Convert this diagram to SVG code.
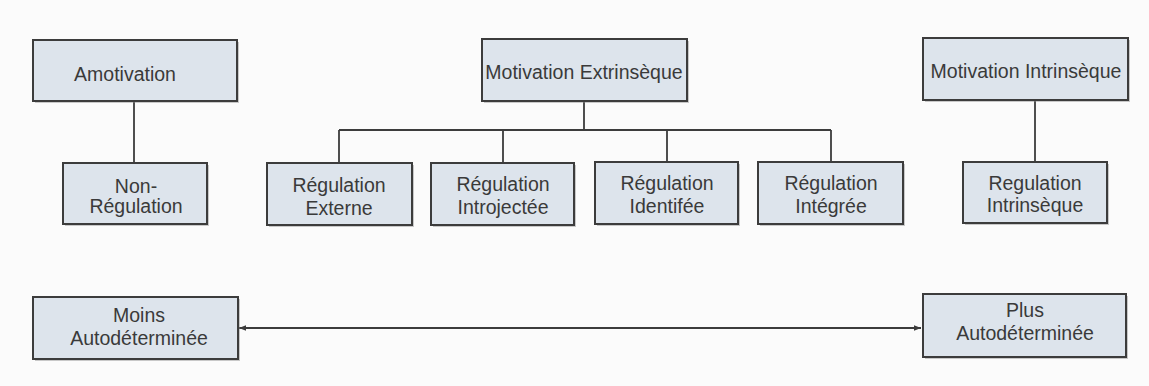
<svg xmlns="http://www.w3.org/2000/svg" width="1149" height="386" viewBox="0 0 1149 386">
<defs>
<style>
.box{fill:#dde4ec;stroke:#3c3c3c;stroke-width:2}
.sh{fill:#8a8a8a;opacity:0.45}
.t{font-family:"Liberation Sans",Arial,sans-serif;font-size:19.5px;fill:#3a3a3a;text-anchor:middle}
.c{fill:none;stroke:#3c3c3c;stroke-width:1.8}
</style>
<marker id="ah" viewBox="0 0 10 10" refX="10" refY="5" markerWidth="8" markerHeight="7" orient="auto-start-reverse" markerUnits="userSpaceOnUse">
<path d="M0,1 L10,5 L0,9 Z" fill="#3c3c3c"/>
</marker>
</defs>
<rect width="1149" height="386" fill="#fbfbfb"/>
<g id="connectors">
<path class="c" d="M134,101 V163"/>
<path class="c" d="M584,101 V130 M339,130 H831 M339,130 V163 M503,130 V163 M667,130 V163 M831,130 V162"/>
<path class="c" d="M1035,100 V162"/>
<path class="c" d="M239,328 H921" marker-start="url(#ah)" marker-end="url(#ah)"/>
</g>
<g id="amotivation"><rect class="sh" x="35" y="42" width="204" height="61"/><rect class="box" x="33" y="40" width="204" height="61"/><text class="t" x="125" y="81">Amotivation</text></g>
<g id="non-regulation"><rect class="sh" x="65" y="165" width="144" height="61"/><rect class="box" x="63" y="163" width="144" height="61"/><text class="t" x="136" y="193">Non-</text><text class="t" x="136" y="213">Régulation</text></g>
<g id="motivation-extrinseque"><rect class="sh" x="484" y="41" width="205" height="62"/><rect class="box" x="482" y="39" width="205" height="62"/><text class="t" x="584" y="79">Motivation Extrinsèque</text></g>
<g id="regulation-externe"><rect class="sh" x="269" y="165" width="145" height="62"/><rect class="box" x="267" y="163" width="145" height="62"/><text class="t" x="339" y="192">Régulation</text><text class="t" x="339" y="215">Externe</text></g>
<g id="regulation-introjectee"><rect class="sh" x="433" y="165" width="143" height="62"/><rect class="box" x="431" y="163" width="143" height="62"/><text class="t" x="503" y="191">Régulation</text><text class="t" x="503" y="214">Introjectée</text></g>
<g id="regulation-identifee"><rect class="sh" x="597" y="164" width="143" height="62"/><rect class="box" x="595" y="162" width="143" height="62"/><text class="t" x="667" y="190">Régulation</text><text class="t" x="667" y="213">Identifée</text></g>
<g id="regulation-integree"><rect class="sh" x="760" y="164" width="145" height="62"/><rect class="box" x="758" y="162" width="145" height="62"/><text class="t" x="831" y="190">Régulation</text><text class="t" x="831" y="213">Intégrée</text></g>
<g id="motivation-intrinseque"><rect class="sh" x="925" y="40" width="205" height="62"/><rect class="box" x="923" y="38" width="205" height="62"/><text class="t" x="1026" y="78">Motivation Intrinsèque</text></g>
<g id="regulation-intrinseque"><rect class="sh" x="965" y="164" width="144" height="61"/><rect class="box" x="963" y="162" width="144" height="61"/><text class="t" x="1035" y="190">Regulation</text><text class="t" x="1035" y="212">Intrinsèque</text></g>
<g id="moins"><rect class="sh" x="35" y="299" width="205" height="62"/><rect class="box" x="33" y="297" width="205" height="62"/><text class="t" x="139" y="322">Moins</text><text class="t" x="139" y="345">Autodéterminée</text></g>
<g id="plus"><rect class="sh" x="925" y="296" width="203" height="63"/><rect class="box" x="923" y="294" width="203" height="63"/><text class="t" x="1025" y="317">Plus</text><text class="t" x="1025" y="340">Autodéterminée</text></g>
</svg>
